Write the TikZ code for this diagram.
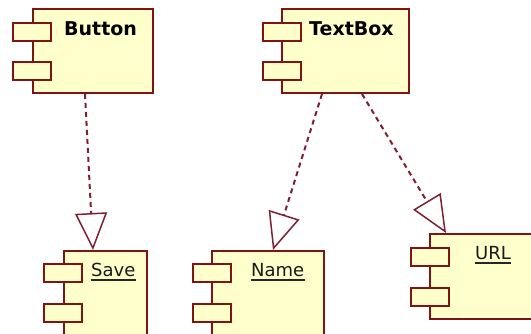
\documentclass[tikz,border=0pt]{standalone}
\usepackage{fontspec}
\setmainfont{DejaVu Sans}
\usetikzlibrary{arrows.meta,calc}
\definecolor{bord}{RGB}{128,20,20}
\definecolor{fillc}{RGB}{255,255,204}
\definecolor{depc}{RGB}{128,30,50}
\begin{document}
\begin{tikzpicture}[x=1pt,y=-1pt,
  comp/.style={draw=bord, fill=fillc, line width=2pt, anchor=north west, inner sep=0pt, minimum height=84pt},
  port/.style={draw=bord, fill=fillc, line width=2pt, inner sep=0pt, minimum width=38pt, minimum height=18pt, anchor=north west},
  title/.style={font=\bfseries\fontsize{19}{19}\selectfont, anchor=base west, inner sep=0pt, text=black},
  label/.style={font=\fontsize{18}{18}\selectfont, anchor=base west, inner sep=0pt, text=black!90},
  uline/.style={draw=black!85, line width=1.5pt},
  deparrow/.style={draw=depc, line width=2pt, dash pattern=on 5pt off 4pt,
    -{Triangle[open, length=37pt, width=32pt, line width=1.5pt]}}
]
\clip (0,0) rectangle (531,334);
\fill[white] (0,0) rectangle (531,334);

% Button
\node[comp, minimum width=120pt] (button) at (32,8) {};
\node[port] (bp1) at (12,22) {};
\node[port] (bp2) at (12,61) {};
\node[title] (buttont) at (64,36) {Button};

% TextBox
\node[comp, minimum width=127pt] (textbox) at (281,8) {};
\node[port] (tp1) at (262,22) {};
\node[port] (tp2) at (262,61) {};
\node[title] (textboxt) at (309,36) {TextBox};

% Save
\node[comp, minimum width=83pt, minimum height=90pt] (save) at (63,250) {};
\node[port] (sp1) at (43,263) {};
\node[port] (sp2) at (43,303) {};
\node[label] (savel) at (91,277) {Save};
\draw[uline] ($(savel.base west)+(0,3)$) -- ($(savel.base east)+(0,3)$);

% Name
\node[comp, minimum width=112pt, minimum height=90pt] (name) at (211,250) {};
\node[port] (np1) at (192,263) {};
\node[port] (np2) at (192,303) {};
\node[label] (namel) at (251,277) {Name};
\draw[uline] ($(namel.base west)+(0,3)$) -- ($(namel.base east)+(0,3)$);

% URL
\node[comp, minimum width=130pt, minimum height=85pt] (url) at (429,233) {};
\node[port] (up1) at (410,247) {};
\node[port] (up2) at (410,287) {};
\node[label] (urll) at (475,260) {URL};
\draw[uline] ($(urll.base west)+(0,3)$) -- ($(urll.base east)+(0,3)$);

% connectors
\coordinate (b1) at ($(button.south west)+(53,0)$);
\coordinate (t1) at ($(textbox.south west)+(41,0)$);
\coordinate (t2) at ($(textbox.south west)+(81,0)$);
\coordinate (s1) at ($(save.north west)+(30,0)$);
\coordinate (n1) at ($(name.north west)+(62,0)$);
\coordinate (u1) at ($(url.north west)+(17,0)$);
\draw[deparrow] (b1) -- (s1);
\draw[deparrow] (t1) -- (n1);
\draw[deparrow] (t2) -- (u1);
\end{tikzpicture}
\end{document}
